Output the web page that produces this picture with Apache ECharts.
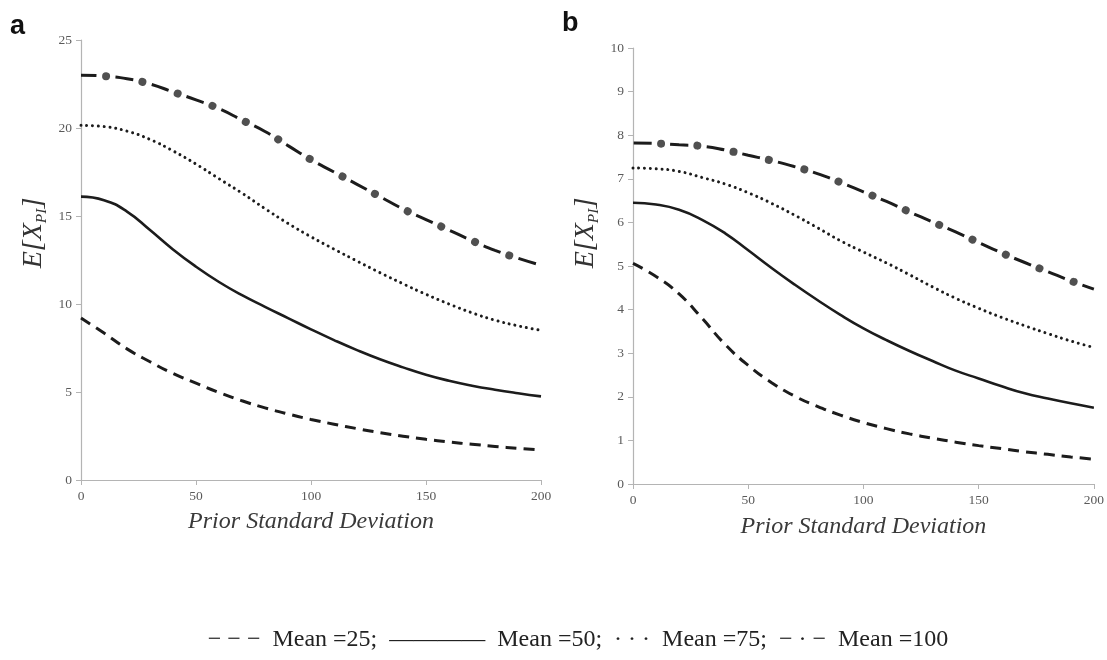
<!DOCTYPE html>
<html><head><meta charset="utf-8">
<script src="https://cdn.jsdelivr.net/npm/echarts@6/dist/echarts.min.js"></script>
<style>html,body{margin:0;padding:0;background:#fff}#c{width:1107px;height:660px}</style>
</head><body><div id="c"></div><script>
// Prior standard deviation (x values shared by both panels)
const sd = [0,10,20,30,40,50,60,70,80,90,100,110,120,130,140,150,160,170,180,190,200];
const xTicks = [0,50,100,150,200];
// Panel a
const a25  = [9.2,8.35,7.45,6.72,6.05,5.5,4.97,4.5,4.1,3.75,3.44,3.17,2.92,2.69,2.49,2.31,2.16,2.03,1.91,1.8,1.7];
const a50  = [16.1,15.9,15.25,14.2,13.1,12.12,11.25,10.5,9.84,9.2,8.56,7.95,7.38,6.86,6.4,5.98,5.64,5.36,5.13,4.93,4.75];
const a75  = [20.15,20.08,19.82,19.35,18.7,17.95,17.12,16.3,15.42,14.58,13.82,13.12,12.44,11.78,11.15,10.55,10.0,9.5,9.08,8.76,8.5];
const a100 = [23.0,22.95,22.8,22.5,22.05,21.6,21.1,20.45,19.8,19.0,18.2,17.5,16.8,16.1,15.4,14.8,14.2,13.6,13.05,12.6,12.2];
const aYTicks = [0,5,10,15,20,25];
// Panel b
const b25  = [5.06,4.76,4.36,3.8,3.2,2.72,2.33,2.02,1.78,1.58,1.41,1.27,1.15,1.05,0.96,0.88,0.81,0.74,0.68,0.62,0.57];
const b50  = [6.45,6.41,6.29,6.06,5.75,5.36,4.96,4.58,4.22,3.88,3.57,3.3,3.05,2.82,2.6,2.42,2.24,2.08,1.96,1.85,1.75];
const b75  = [7.25,7.23,7.17,7.03,6.88,6.68,6.44,6.17,5.88,5.58,5.32,5.07,4.8,4.52,4.26,4.03,3.82,3.63,3.45,3.28,3.13];
const b100 = [7.82,7.81,7.78,7.75,7.66,7.54,7.42,7.28,7.12,6.92,6.7,6.48,6.24,6.01,5.78,5.54,5.3,5.08,4.87,4.66,4.47];
const bYTicks = [0,1,2,3,4,5,6,7,8,9,10];
const legendText = '− − −  Mean =25;  ————  Mean =50;  · · ·  Mean =75;  − · −  Mean =100';

const chart = echarts.init(document.getElementById('c'));
const pairs = ys => sd.map((x,i)=>[x, ys[i]]);
const serif = 'Liberation Serif';
const axisGray = '#b4b4b4';
const lblGray = '#5a5a5a';
const ink = '#1c1c1c';

function xAxis(gi, gap){
  return {type:'value', gridIndex:gi, min:xTicks[0], max:xTicks[xTicks.length-1], interval:50,
    name:'Prior Standard Deviation', nameLocation:'middle', nameGap:gap,
    nameTextStyle:{fontFamily:serif, fontStyle:'italic', fontSize:24, color:'#3a3a3a'},
    axisLine:{show:true, lineStyle:{color:axisGray, width:1.2}},
    axisTick:{show:true, length:5, lineStyle:{color:axisGray}},
    axisLabel:{fontFamily:serif, fontSize:13.5, color:lblGray, margin:9},
    splitLine:{show:false}};
}
function yAxis(gi, ticks){
  return {type:'value', gridIndex:gi, min:ticks[0], max:ticks[ticks.length-1], interval:ticks[1]-ticks[0],
    axisLine:{show:true, lineStyle:{color:axisGray, width:1.2}},
    axisTick:{show:true, length:5, lineStyle:{color:axisGray}},
    axisLabel:{fontFamily:serif, fontSize:13.5, color:lblGray, margin:9},
    splitLine:{show:false}};
}
function lines(gi, d25, d50, d75, d100, period, firstDot){
  const base = {type:'line', xAxisIndex:gi, yAxisIndex:gi, smooth:true, showSymbol:false, symbol:'none', silent:true, animation:false};
  const dashLen = 18;
  const dashCenter = firstDot - period/2;
  return [
    Object.assign({}, base, {name:'Mean =25', data:pairs(d25), lineStyle:{color:ink, width:3, type:[11,7]}}),
    Object.assign({}, base, {name:'Mean =50', data:pairs(d50), lineStyle:{color:ink, width:2.6, type:'solid'}}),
    Object.assign({}, base, {name:'Mean =75', data:pairs(d75), lineStyle:{color:ink, width:3, type:[0.01,5.8], cap:'round'}}),
    Object.assign({}, base, {name:'Mean =100', data:pairs(d100), lineStyle:{color:ink, width:3, type:[dashLen, period-dashLen], dashOffset:(dashLen/2 - dashCenter)}}),
    Object.assign({}, base, {name:'Mean =100 markers', data:pairs(d100), lineStyle:{color:'#505050', width:8, type:[0.01, period-0.01], cap:'round', dashOffset:period-firstDot}})
  ];
}

function yName(x, y){
  return {type:'text', x:x, y:y, rotation:Math.PI/2,
    style:{text:'{e|E[X}{s|PI}{e|]}', align:'center', verticalAlign:'middle',
      rich:{e:{fontFamily:serif, fontStyle:'italic', fontSize:28, lineHeight:31, fill:'#333'},
            s:{fontFamily:serif, fontStyle:'italic', fontSize:15.5, lineHeight:15, verticalAlign:'bottom', fill:'#333'}}}};
}

chart.setOption({
  animation:false,
  backgroundColor:'#fff',
  grid:[{left:81, top:40, width:460, height:440},
        {left:633, top:48, width:461, height:436}],
  xAxis:[xAxis(0,30), xAxis(1,31)],
  yAxis:[yAxis(0,aYTicks), yAxis(1,bYTicks)],
  series:[].concat(lines(0,a25,a50,a75,a100,37,25), lines(1,b25,b50,b75,b100,36.5,28)),
  graphic:[
    {type:'text', x:10, y:13, style:{text:'a', font:'bold 27px "Liberation Sans"', fill:'#111'}},
    {type:'text', x:562, y:10, style:{text:'b', font:'bold 27px "Liberation Sans"', fill:'#111'}},
    yName(34, 233),
    yName(586, 233),
    {type:'text', x:578, y:640, style:{text:legendText, align:'center', verticalAlign:'middle', font:'24px "Liberation Serif"', fill:'#222'}}
  ]
});
</script></body></html>
